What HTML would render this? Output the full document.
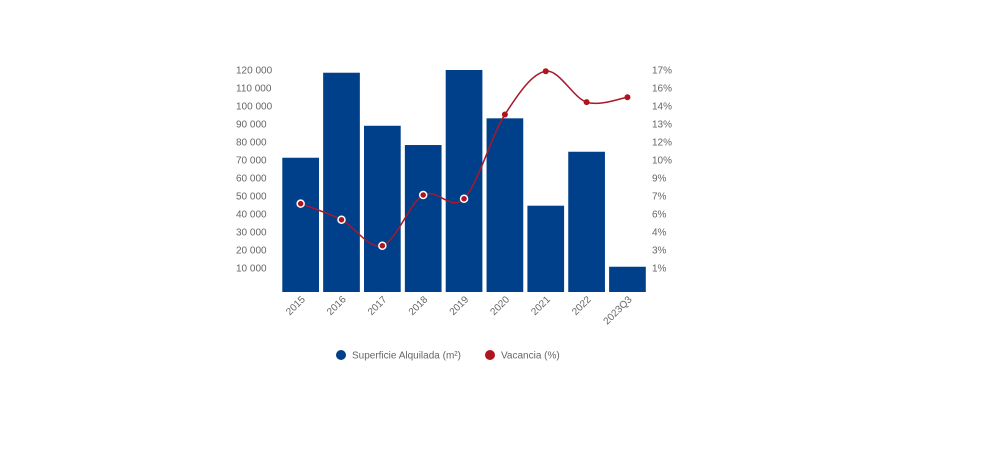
<!DOCTYPE html>
<html><head><meta charset="utf-8"><style>
body{margin:0;background:#fff;width:992px;height:466px;overflow:hidden;font-family:"Liberation Sans",sans-serif}
svg text{fill:#666;font-size:10px;font-family:"Liberation Sans",sans-serif}
</style></head><body>
<svg id="c" width="992" height="466"></svg>
<script>
const categories=["2015","2016","2017","2018","2019","2020","2021","2022","2023Q3"];
const surface=[71700,118500,89300,78700,120000,93400,45300,75000,11700];
const vacancy=[6.2,4.9,2.8,6.9,6.6,13.4,16.9,14.4,14.8];
const leftTicks=[10000,20000,30000,40000,50000,60000,70000,80000,90000,100000,110000,120000];
const rightTickLabels=["1%","3%","4%","6%","7%","9%","10%","12%","13%","14%","16%","17%"];
const NS="http://www.w3.org/2000/svg";
const svg=document.getElementById('c');
function mk(t,a,p){const e=document.createElementNS(NS,t);for(const k in a)e.setAttribute(k,a[k]);(p||svg).appendChild(e);return e;}
const x0=282.3,step=40.85,bw=36.7;
const xc=i=>x0+i*step+bw/2;
const yL=v=>288-v/120000*218;
const yR=p=>268-(p-1)/16*198;
// left ticks
leftTicks.forEach((v,i)=>{const t=mk('text',{x:236,y:268-i*18+3.5});t.textContent=v.toLocaleString('en').replace(/,/g,' ');
});
rightTickLabels.forEach((s,i)=>{const t=mk('text',{x:652,y:268-i*18+3.5});t.textContent=s;
});
// bars
surface.forEach((v,i)=>{const r=mk('rect',{x:x0+i*step,y:yL(v),width:bw,height:292-yL(v),fill:'#003f8a'});
});
// x labels
categories.forEach((c,i)=>{const t=mk('text',{x:xc(i)+5,y:300,'text-anchor':'end',transform:`rotate(-45 ${xc(i)+5} 300)`});t.textContent=c;
});
// line (catmull-rom)
const pts=vacancy.map((p,i)=>[xc(i),yR(p)]);
let d=`M${pts[0][0]},${pts[0][1]}`;
for(let i=0;i<pts.length-1;i++){const p0=pts[i-1]||pts[i],p1=pts[i],p2=pts[i+1],p3=pts[i+2]||p2;
d+=` C${p1[0]+(p2[0]-p0[0])/6},${p1[1]+(p2[1]-p0[1])/6} ${p2[0]-(p3[0]-p1[0])/6},${p2[1]-(p3[1]-p1[1])/6} ${p2[0]},${p2[1]}`;}
const ln=mk('path',{d:d,fill:'none',stroke:'#a61a2a','stroke-width':1.5});

pts.forEach((p,i)=>{const c=mk('circle',{cx:p[0],cy:p[1],r:i<5?3.5:3,fill:'#b0141e',stroke:i<5?'#fff':'none','stroke-width':1.5});
});
// legend
const g=mk('g',{});
mk('circle',{cx:341,cy:355,r:5,fill:'#003f8a'},g);
let t=mk('text',{x:352,y:358.5},g);t.textContent='Superficie Alquilada (m²)';
mk('circle',{cx:490,cy:355,r:5,fill:'#b0141e'},g);
t=mk('text',{x:501,y:358.5},g);t.textContent='Vacancia (%)';
</script>
</body></html>
